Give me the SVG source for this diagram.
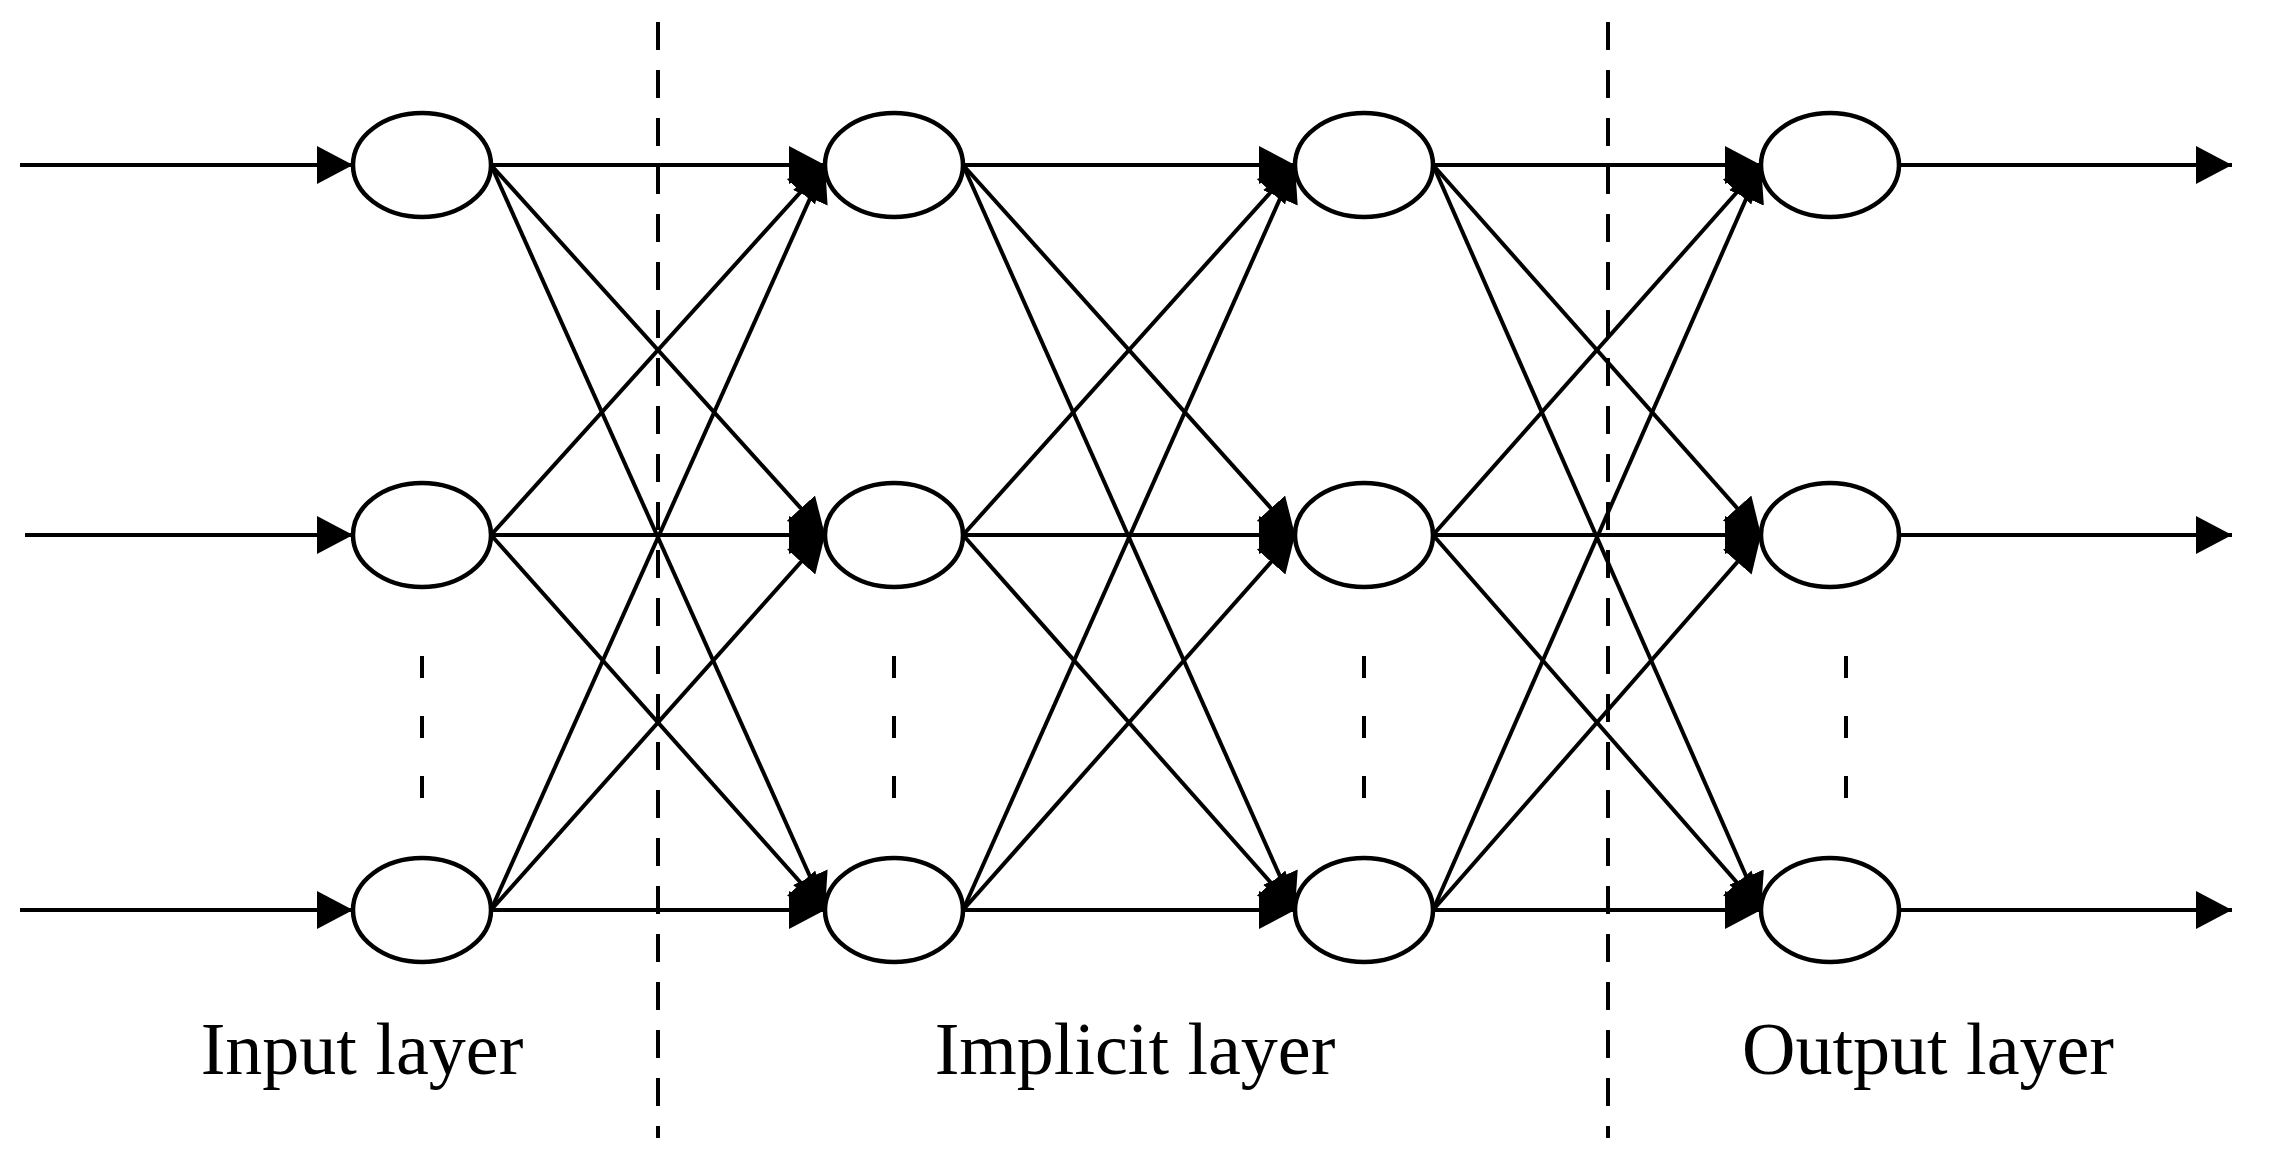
<svg xmlns="http://www.w3.org/2000/svg" width="2281" height="1161" viewBox="0 0 2281 1161">
<style>
.n{fill:#fff;stroke:#000;stroke-width:4.5}
.c line{stroke:#000;stroke-width:4}
.a{marker-end:url(#ah)}
.d{stroke:#000;stroke-width:4;stroke-dasharray:28 20}
.v{stroke:#000;stroke-width:4;stroke-dasharray:22 38}
text{font-family:"Liberation Serif",serif;font-size:74px;text-anchor:middle}
</style>
<defs><marker id="ah" markerUnits="userSpaceOnUse" markerWidth="36" markerHeight="38" refX="36" refY="19" orient="auto"><path d="M0,0 L36,19 L0,38 z"/></marker></defs>
<rect width="2281" height="1161" fill="#fff"/>
<g id="separators">
<line class="d" x1="658" y1="22" x2="658" y2="1138"/>
<line class="d" x1="1608" y1="22" x2="1608" y2="1138"/>
</g>
<g id="ellipsis">
<line class="v" x1="422" y1="656" x2="422" y2="800"/>
<line class="v" x1="894" y1="656" x2="894" y2="800"/>
<line class="v" x1="1364" y1="656" x2="1364" y2="800"/>
<line class="v" x1="1846" y1="656" x2="1846" y2="800"/>
</g>
<g id="connectors" class="c">
<line class="a" x1="20" y1="165" x2="353" y2="165"/>
<line class="a" x1="25" y1="535" x2="353" y2="535"/>
<line class="a" x1="20" y1="910" x2="353" y2="910"/>
<line class="a" x1="491" y1="165" x2="825" y2="165"/><line class="a" x1="491" y1="165" x2="825" y2="535"/><line class="a" x1="491" y1="165" x2="825" y2="910"/>
<line class="a" x1="491" y1="535" x2="825" y2="165"/><line class="a" x1="491" y1="535" x2="825" y2="535"/><line class="a" x1="491" y1="535" x2="825" y2="910"/>
<line class="a" x1="491" y1="910" x2="825" y2="165"/><line class="a" x1="491" y1="910" x2="825" y2="535"/><line class="a" x1="491" y1="910" x2="825" y2="910"/>
<line class="a" x1="963" y1="165" x2="1295" y2="165"/><line class="a" x1="963" y1="165" x2="1295" y2="535"/><line class="a" x1="963" y1="165" x2="1295" y2="910"/>
<line class="a" x1="963" y1="535" x2="1295" y2="165"/><line class="a" x1="963" y1="535" x2="1295" y2="535"/><line class="a" x1="963" y1="535" x2="1295" y2="910"/>
<line class="a" x1="963" y1="910" x2="1295" y2="165"/><line class="a" x1="963" y1="910" x2="1295" y2="535"/><line class="a" x1="963" y1="910" x2="1295" y2="910"/>
<line class="a" x1="1433" y1="165" x2="1761" y2="165"/><line class="a" x1="1433" y1="165" x2="1761" y2="535"/><line class="a" x1="1433" y1="165" x2="1761" y2="910"/>
<line class="a" x1="1433" y1="535" x2="1761" y2="165"/><line class="a" x1="1433" y1="535" x2="1761" y2="535"/><line class="a" x1="1433" y1="535" x2="1761" y2="910"/>
<line class="a" x1="1433" y1="910" x2="1761" y2="165"/><line class="a" x1="1433" y1="910" x2="1761" y2="535"/><line class="a" x1="1433" y1="910" x2="1761" y2="910"/>
<line class="a" x1="1899" y1="165" x2="2232" y2="165"/>
<line class="a" x1="1899" y1="535" x2="2232" y2="535"/>
<line class="a" x1="1899" y1="910" x2="2232" y2="910"/>
</g>
<g id="in1"><ellipse class="n" cx="422" cy="165" rx="69" ry="52"/></g>
<g id="in2"><ellipse class="n" cx="422" cy="535" rx="69" ry="52"/></g>
<g id="in3"><ellipse class="n" cx="422" cy="910" rx="69" ry="52"/></g>
<g id="h1a"><ellipse class="n" cx="894" cy="165" rx="69" ry="52"/></g>
<g id="h1b"><ellipse class="n" cx="894" cy="535" rx="69" ry="52"/></g>
<g id="h1c"><ellipse class="n" cx="894" cy="910" rx="69" ry="52"/></g>
<g id="h2a"><ellipse class="n" cx="1364" cy="165" rx="69" ry="52"/></g>
<g id="h2b"><ellipse class="n" cx="1364" cy="535" rx="69" ry="52"/></g>
<g id="h2c"><ellipse class="n" cx="1364" cy="910" rx="69" ry="52"/></g>
<g id="o1"><ellipse class="n" cx="1830" cy="165" rx="69" ry="52"/></g>
<g id="o2"><ellipse class="n" cx="1830" cy="535" rx="69" ry="52"/></g>
<g id="o3"><ellipse class="n" cx="1830" cy="910" rx="69" ry="52"/></g>
<g id="labels">
<text x="362" y="1074">Input layer</text>
<text x="1135" y="1074">Implicit layer</text>
<text x="1928" y="1074">Output layer</text>
</g>
</svg>
